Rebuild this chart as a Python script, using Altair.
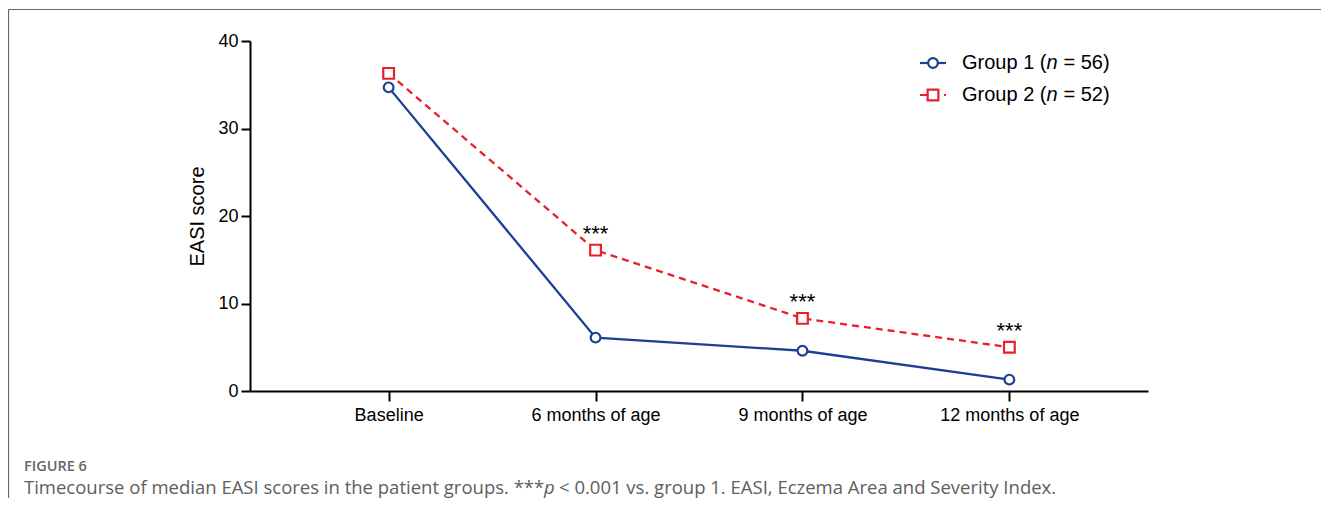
import altair as alt
import pandas as pd

# ---- data ----
categories = ["Baseline", "6 months of age", "9 months of age", "12 months of age"]
group1 = [34.7, 6.1, 4.6, 1.3]
group2 = [36.3, 16.1, 8.3, 5.0]
sig_marks = ["", "***", "***", "***"]
y_ticks = [0, 10, 20, 30, 40]
legend_rows = [("Group 1 (", "n", "= 56)"), ("Group 2 (", "n", "= 52)")]
caption_title = "FIGURE 6"
caption_parts = [
    "Timecourse of median EASI scores in the patient groups. ***",
    "p",
    "< 0.001 vs. group 1. EASI, Eczema Area and Severity Index.",
]

BLUE = "#1c3f95"
RED = "#e8202c"
FONT = "Liberation Sans"
CAP_FONT = "Open Sans"

df1 = pd.DataFrame({"time": categories, "score": group1})
df2 = pd.DataFrame({"time": categories, "score": group2, "sig": sig_marks})
dummy = pd.DataFrame({"a": [0]})

x_enc = alt.X(
    "time:N",
    sort=categories,
    scale=alt.Scale(type="point", padding=0.67),
    axis=alt.Axis(
        title=None, labelAngle=0, labelFontSize=18, labelFont=FONT, labelPadding=5,
        tickSize=10, tickWidth=2, domainWidth=2, labelColor="black",
        tickColor="black", domainColor="black", grid=False,
    ),
)
y_enc = alt.Y(
    "score:Q",
    scale=alt.Scale(domain=[0, 40], nice=False),
    axis=alt.Axis(
        values=y_ticks, title="EASI score", titleFont=FONT, titleFontSize=20,
        titleFontWeight="normal", titleColor="black", titleAngle=270,
        titleX=-53, titleY=175, titleAlign="center", titleBaseline="middle",
        labelFontSize=18, labelFont=FONT, labelPadding=3, labelColor="black",
        tickSize=9, tickWidth=2, domainWidth=2, tickColor="black",
        domainColor="black", grid=False,
    ),
)

line1 = alt.Chart(df1).mark_line(color=BLUE, strokeWidth=2.3).encode(x=x_enc, y=y_enc)
line2 = alt.Chart(df2).mark_line(color=RED, strokeWidth=2.3, strokeDash=[7, 5]).encode(x=x_enc, y=y_enc)
pts1 = alt.Chart(df1).mark_point(
    shape="circle", filled=True, fill="white", stroke=BLUE, strokeWidth=2.2,
    size=95, opacity=1, fillOpacity=1,
).encode(x=x_enc, y=y_enc)
pts2 = alt.Chart(df2).mark_point(
    shape="square", filled=True, fill="white", stroke=RED, strokeWidth=2.2,
    size=115, opacity=1, fillOpacity=1,
).encode(x=x_enc, y=y_enc)
stars = alt.Chart(df2).mark_text(
    fontSize=22, font=FONT, baseline="alphabetic", dy=-9, color="black"
).encode(x=x_enc, y=y_enc, text="sig:N")

layers = [line1, line2, pts1, pts2, stars]

# ---- manual legend (italic n) ----
leg_y = [22, 54]
colors = [BLUE, RED]
shapes = ["circle", "square"]
sizes = [95, 115]
for i, (a, n, b) in enumerate(legend_rows):
    rule_kw = dict(color=colors[i], strokeWidth=2.2)
    if i == 1:
        rule_kw["strokeDash"] = [7, 5]
    layers.append(
        alt.Chart(dummy).mark_rule(**rule_kw).encode(
            x=alt.value(670), x2=alt.value(696), y=alt.value(leg_y[i])
        )
    )
    layers.append(
        alt.Chart(dummy).mark_point(
            shape=shapes[i], filled=True, fill="white", stroke=colors[i],
            strokeWidth=2.2, size=sizes[i], opacity=1, fillOpacity=1,
        ).encode(x=alt.value(683), y=alt.value(leg_y[i]))
    )
    for txt, dx, style in [(a, 712, "normal"), (n, 796.5, "italic"), (b, 813.5, "normal")]:
        layers.append(
            alt.Chart(dummy).mark_text(
                font=FONT, fontSize=20, fontStyle=style, align="left",
                baseline="middle", color="black",
            ).encode(x=alt.value(dx), y=alt.value(leg_y[i]), text=alt.value(txt))
        )

# ---- frame and caption ----
layers.append(
    alt.Chart(dummy).mark_rule(color="#666666", strokeWidth=1.2).encode(
        x=alt.value(-241.5), x2=alt.value(1080), y=alt.value(-31.5)
    )
)
layers.append(
    alt.Chart(dummy).mark_rule(color="#666666", strokeWidth=1.2).encode(
        x=alt.value(-241.5), y=alt.value(-31.5), y2=alt.value(470)
    )
)
layers.append(
    alt.Chart(dummy).mark_text(
        font=CAP_FONT, fontSize=14.5, fontWeight=600, align="left",
        baseline="alphabetic", color="#666666",
    ).encode(x=alt.value(-226), y=alt.value(430), text=alt.value(caption_title))
)
for txt, dx, style in [(caption_parts[0], -226, "normal"), (caption_parts[1], 294, "italic"), (caption_parts[2], 309, "normal")]:
    layers.append(
        alt.Chart(dummy).mark_text(
            font=CAP_FONT, fontSize=18.5, fontStyle=style, align="left",
            baseline="alphabetic", color="#5e5e5e",
        ).encode(x=alt.value(dx), y=alt.value(453), text=alt.value(txt))
    )

chart = (
    alt.layer(*layers)
    .properties(
        width=898, height=350,
        autosize=alt.AutoSizeParams(type="none"),
        padding={"left": 242, "top": 33, "right": 173, "bottom": 107},
        background="white",
    )
    .configure_view(stroke=None)
)

chart.save("out.html", embed_options={"renderer": "svg", "actions": False})
